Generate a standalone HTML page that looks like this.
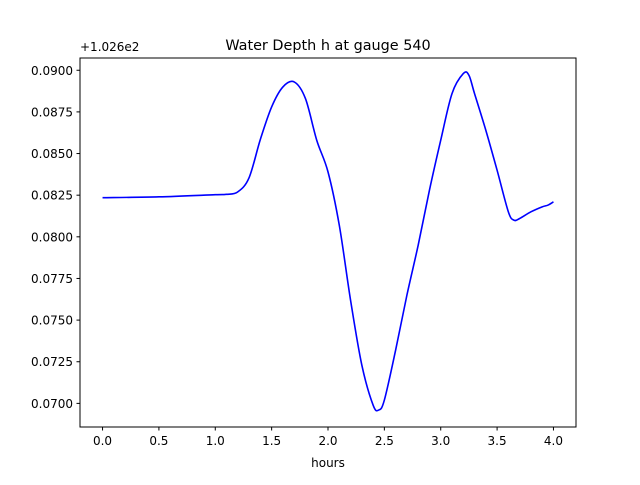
<!DOCTYPE html>
<html><head><meta charset="utf-8"><style>
body{margin:0;background:#fff}
svg text{font-family:"DejaVu Sans","Liberation Sans",sans-serif;fill:#000}
</style></head><body>
<svg id="chart" width="640" height="480" xmlns="http://www.w3.org/2000/svg">
<rect width="640" height="480" fill="#fff"/>
<text x="328" y="50" font-size="14.4" text-anchor="middle">Water Depth h at gauge 540</text>
<text x="80" y="51" font-size="12">+1.026e2</text>
<text x="328" y="467" font-size="12" text-anchor="middle">hours</text>
<g id="ticks"></g>
<path id="line" fill="none" stroke="#0000ff" stroke-width="1.6" stroke-linejoin="round"/>
<rect x="80" y="58" width="496" height="369" fill="none" stroke="#000" stroke-width="1"/>
</svg>
<script>
const hours=[0,0.5,1.0,1.1,1.2,1.3,1.4,1.5,1.6,1.7,1.8,1.9,2.0,2.1,2.2,2.3,2.4,2.45,2.5,2.6,2.7,2.8,2.9,3.0,3.1,3.2,3.25,3.3,3.4,3.5,3.6,3.65,3.7,3.8,3.9,3.95,4.0];
const depth=[0.08235,0.0824,0.08253,0.08255,0.0827,0.08355,0.08585,0.0878,0.0890,0.0893,0.0883,0.0858,0.0839,0.0807,0.0762,0.0723,0.0699,0.0696,0.0702,0.0732,0.0765,0.0795,0.0828,0.0858,0.0886,0.0898,0.0897,0.0886,0.0864,0.0840,0.0815,0.0810,0.0811,0.0815,0.0818,0.0819,0.0821];
const xTicks=[0,0.5,1.0,1.5,2.0,2.5,3.0,3.5,4.0];
const yTicks=[0.0700,0.0725,0.0750,0.0775,0.0800,0.0825,0.0850,0.0875,0.0900];
const X0=80,X1=576,Y0=427.2,Y1=57.6,xmin=-0.2,xmax=4.2,ymin=0.06857,ymax=0.09076;
const sx=v=>X0+(v-xmin)/(xmax-xmin)*(X1-X0);
const sy=v=>Y0-(v-ymin)/(ymax-ymin)*(Y0-Y1);
const NS="http://www.w3.org/2000/svg";
const g=document.getElementById('ticks');
function mk(tag,a){const e=document.createElementNS(NS,tag);for(const k in a)e.setAttribute(k,a[k]);g.appendChild(e);return e;}
xTicks.forEach(t=>{
 const l=mk('line',{x1:sx(t),x2:sx(t),y1:427,y2:430.5,stroke:'#000'});
 
 
 const tx=mk('text',{x:sx(t),y:445,'font-size':12,'text-anchor':'middle'});
 
 
 tx.textContent=t.toFixed(1);
});
yTicks.forEach(t=>{
 const l=mk('line',{x1:76.5,x2:80,y1:sy(t),y2:sy(t),stroke:'#000'});
 
 
 const tx=mk('text',{x:73,y:sy(t)+4.5,'font-size':12,'text-anchor':'end'});
 
 
 tx.textContent=t.toFixed(4);
});
// Catmull-Rom smooth path
const P=hours.map((h,i)=>[sx(h),sy(depth[i])]);
let d='M'+P[0][0]+','+P[0][1];
for(let i=0;i<P.length-1;i++){
 const p0=P[Math.max(0,i-1)],p1=P[i],p2=P[i+1],p3=P[Math.min(P.length-1,i+2)];
 const c1=[p1[0]+(p2[0]-p0[0])/6,p1[1]+(p2[1]-p0[1])/6];
 const c2=[p2[0]-(p3[0]-p1[0])/6,p2[1]-(p3[1]-p1[1])/6];
 d+=`C${c1[0]},${c1[1]} ${c2[0]},${c2[1]} ${p2[0]},${p2[1]}`;
}
document.getElementById('line').setAttribute('d',d);
</script>
</body></html>
